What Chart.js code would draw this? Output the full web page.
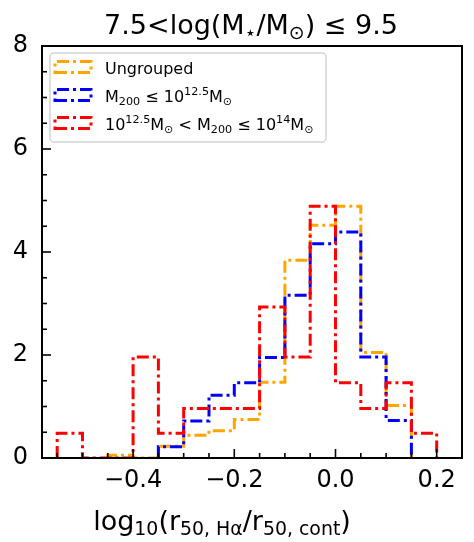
<!DOCTYPE html>
<html><head><meta charset="utf-8">
<script src="https://cdn.jsdelivr.net/npm/chart.js@4/dist/chart.umd.min.js"></script>
<style>html,body{margin:0;padding:0;background:#fff;}#wrap{width:474px;height:542px;position:relative;}</style>
</head><body><div id="wrap"><canvas id="c" width="474" height="542"></canvas></div>
<script>
// ---- text ----
const titleText = '7.5<log(M_{⋆}/M_{⊙}) ≤ 9.5';
const xAxisTitle = 'log_{10}(r_{50, Hα}/r_{50, cont})';
const seriesNames = ['Ungrouped', 'M_{200} ≤ 10^{12.5}M_{⊙}', '10^{12.5}M_{⊙} < M_{200} ≤ 10^{14}M_{⊙}'];
const seriesColors = ['#FFA500', '#0000FF', '#FF0000'];

// ---- data (histogram densities per bin) ----
const ungroupedEdges = [-0.45, -0.40, -0.35, -0.30, -0.25, -0.20, -0.15, -0.10, -0.05, 0.00, 0.05, 0.10, 0.15];
const ungroupedValues = [0.055, 0, 0.23, 0.44, 0.53, 0.75, 1.47, 3.84, 4.52, 4.89, 2.05, 1.02];
const lowMassEdges = [-0.35, -0.30, -0.25, -0.20, -0.15, -0.10, -0.05, 0.00, 0.05, 0.10, 0.15];
const lowMassValues = [0.22, 0.72, 1.22, 1.46, 1.95, 3.16, 4.16, 4.39, 1.96, 0.73];
const highMassEdges = [-0.55, -0.50, -0.45, -0.40, -0.35, -0.30, -0.25, -0.20, -0.15, -0.10, -0.05, 0.00, 0.05, 0.10, 0.15, 0.20];
const highMassValues = [0.48, 0, 0, 1.96, 0.48, 0.96, 0.96, 0.96, 2.93, 1.96, 4.89, 1.46, 0.96, 1.46, 0.48];

// ---- ticks ----
const xMajorTicks = [-0.4, -0.2, 0.0, 0.2];
const xTickLabels = ['−0.4', '−0.2', '0.0', '0.2'];
const xMinorTicks = [-0.55, -0.5, -0.45, -0.35, -0.3, -0.25, -0.15, -0.1, -0.05, 0.05, 0.1, 0.15];
const yMajorTicks = [0, 2, 4, 6, 8];
const yTickLabels = ['0', '2', '4', '6', '8'];
const yMinorTicks = [0.5, 1, 1.5, 2.5, 3, 3.5, 4.5, 5, 5.5, 6.5, 7, 7.5];

function stepOutline(edges, values) {
  const pts = [{x: edges[0], y: 0}];
  values.forEach((v, i) => { pts.push({x: edges[i], y: v}); pts.push({x: edges[i + 1], y: v}); });
  pts.push({x: edges[edges.length - 1], y: 0});
  return pts;
}

const DASH = [12, 4, 3, 4];
const LW = 3;
const FONT = '"DejaVu Sans", "Liberation Sans", sans-serif';

function parseRich(s) {
  const segs = []; let i = 0, buf = '';
  while (i < s.length) {
    const c = s[i];
    if ((c === '_' || c === '^') && s[i + 1] === '{') {
      if (buf) { segs.push({t: buf, k: 0}); buf = ''; }
      const j = s.indexOf('}', i + 2);
      segs.push({t: s.slice(i + 2, j), k: c === '_' ? 1 : 2});
      i = j + 1;
    } else { buf += c; i++; }
  }
  if (buf) segs.push({t: buf, k: 0});
  return segs;
}
function drawRich(ctx, s, x, y, size, align) {
  const segs = parseRich(s);
  const F = sz => sz + 'px ' + FONT;
  let w = 0;
  segs.forEach(g => { ctx.font = F(g.k ? size * 0.7 : size); g.w = ctx.measureText(g.t).width; w += g.w; });
  let cx = align === 'center' ? x - w / 2 : x;
  ctx.textAlign = 'left'; ctx.textBaseline = 'alphabetic'; ctx.fillStyle = '#000';
  segs.forEach(g => {
    ctx.font = F(g.k ? size * 0.7 : size);
    const dy = g.k === 1 ? size * 0.2 : (g.k === 2 ? -size * 0.42 : 0);
    ctx.fillText(g.t, cx, y + dy);
    cx += g.w;
  });
  return w;
}

const decor = {
  id: 'decor',
  afterDatasetsDraw(chart) {
    const {ctx, chartArea: a, scales: {x, y}} = chart;
    ctx.save();
    ctx.setLineDash([]);
    ctx.strokeStyle = '#000';
    // ticks (inward)
    ctx.lineWidth = 1.6;
    const seg = (x1, y1, x2, y2) => { ctx.beginPath(); ctx.moveTo(x1, y1); ctx.lineTo(x2, y2); ctx.stroke(); };
    xMajorTicks.forEach(v => { const p = x.getPixelForValue(v); seg(p, a.bottom, p, a.bottom - 9); });
    xMinorTicks.forEach(v => { const p = x.getPixelForValue(v); seg(p, a.bottom, p, a.bottom - 5); });
    yMajorTicks.forEach(v => { const p = y.getPixelForValue(v); seg(a.left, p, a.left + 9, p); });
    yMinorTicks.forEach(v => { const p = y.getPixelForValue(v); seg(a.left, p, a.left + 5, p); });
    // frame
    ctx.lineWidth = 2;
    ctx.strokeRect(a.left, a.top, a.right - a.left, a.bottom - a.top);
    // legend
    const lx = a.left + 8, ly = a.top + 7, lw = 276, lh = 89;
    ctx.fillStyle = 'rgba(255,255,255,0.85)';
    ctx.strokeStyle = '#d4d4d4';
    ctx.lineWidth = 1.5;
    ctx.beginPath(); ctx.roundRect(lx, ly, lw, lh, 4); ctx.fill(); ctx.stroke();
    chart.data.datasets.forEach((ds, i) => {
      const base = ly + 20.5 + i * 28;
      ctx.save();
      ctx.strokeStyle = ds.borderColor; ctx.lineWidth = LW; ctx.setLineDash(DASH);
      ctx.beginPath();
      ctx.moveTo(lx + 5, base - 1); ctx.lineTo(lx + 41, base - 1); ctx.lineTo(lx + 41, base - 12); ctx.lineTo(lx + 5, base - 12); ctx.closePath();
      ctx.stroke();
      ctx.restore();
      drawRich(ctx, ds.label, lx + 55, base, 16, 'left');
    });
    ctx.restore();
  },
  afterDraw(chart) {
    const {ctx, chartArea: a} = chart;
    ctx.save();
    drawRich(ctx, titleText, (a.left + a.right) / 2 - 1, 34, 27, 'center');
    drawRich(ctx, xAxisTitle, (a.left + a.right) / 2 - 30, 530, 27, 'center');
    ctx.restore();
  }
};

const series = [
  {label: seriesNames[0], edges: ungroupedEdges, values: ungroupedValues, color: seriesColors[0], order: 3},
  {label: seriesNames[1], edges: lowMassEdges, values: lowMassValues, color: seriesColors[1], order: 2},
  {label: seriesNames[2], edges: highMassEdges, values: highMassValues, color: seriesColors[2], order: 1}
];

new Chart(document.getElementById('c'), {
  type: 'scatter',
  data: {
    datasets: series.map(s => ({
      label: s.label,
      data: stepOutline(s.edges, s.values),
      showLine: true, pointRadius: 0, pointHoverRadius: 0,
      borderColor: s.color, backgroundColor: s.color,
      borderWidth: LW, borderDash: DASH, borderCapStyle: 'butt', borderJoinStyle: 'miter',
      fill: false, tension: 0, order: s.order
    }))
  },
  options: {
    responsive: false, animation: false, devicePixelRatio: 1,
    layout: {padding: {left: 0, right: 12, top: 46, bottom: 0}},
    plugins: {legend: {display: false}, tooltip: {enabled: false}, title: {display: false}},
    scales: {
      x: {
        type: 'linear', min: -0.58, max: 0.25,
        grid: {display: false, drawTicks: false, tickLength: 0}, border: {display: false},
        afterBuildTicks: s => { s.ticks = xMajorTicks.map(v => ({value: v})); },
        ticks: {callback: v => xTickLabels[xMajorTicks.indexOf(v)], font: {family: FONT, size: 24}, color: '#000', padding: 8, maxRotation: 0, autoSkip: false},
        afterFit: s => { s.height = 84; }
      },
      y: {
        min: 0, max: 8,
        grid: {display: false, drawTicks: false, tickLength: 0}, border: {display: false},
        afterBuildTicks: s => { s.ticks = yMajorTicks.map(v => ({value: v})); },
        ticks: {callback: v => yTickLabels[yMajorTicks.indexOf(v)], font: {family: FONT, size: 24}, color: '#000', padding: 14, autoSkip: false},
        afterFit: s => { s.width = 42; }
      }
    }
  },
  plugins: [decor]
});
</script></body></html>
